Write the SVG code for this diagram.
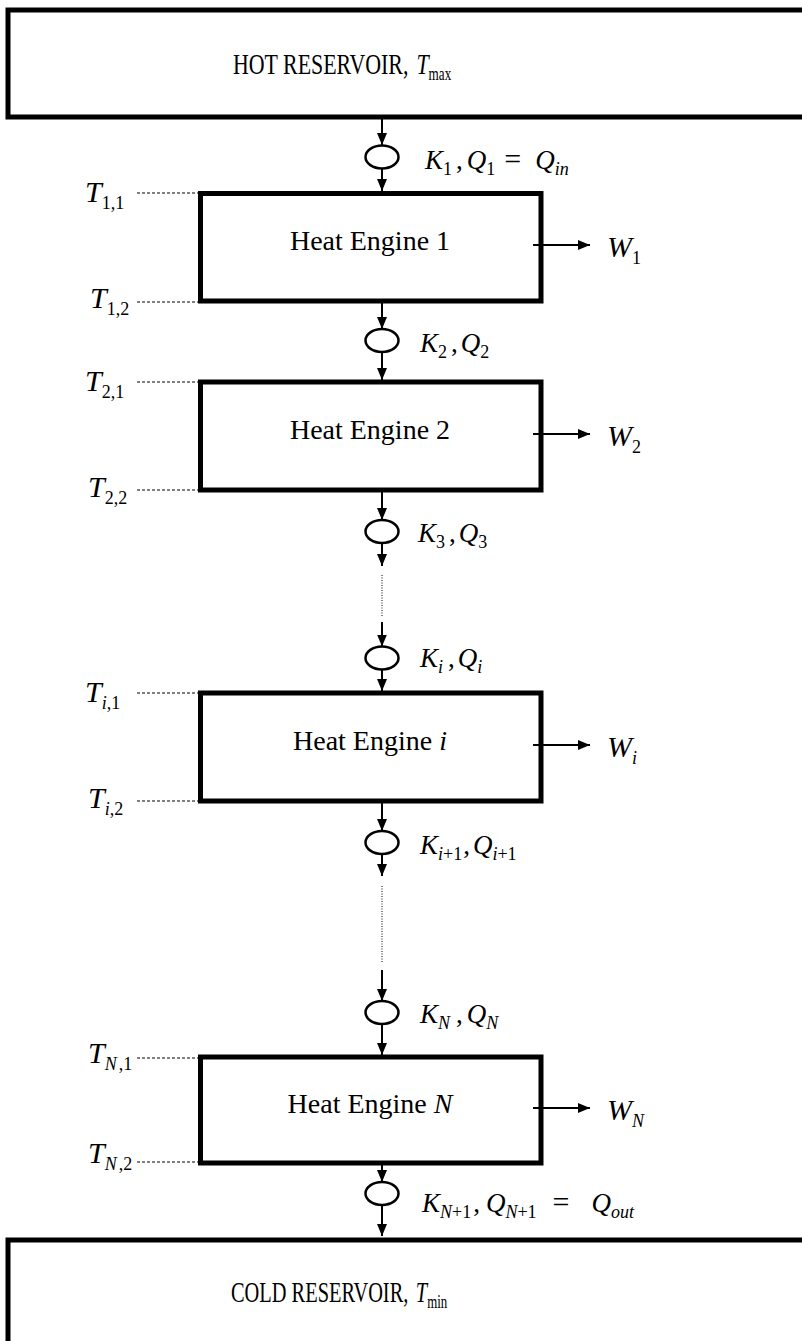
<svg xmlns="http://www.w3.org/2000/svg" width="802" height="1341" viewBox="0 0 802 1341">
<style>
.t{font-family:"Liberation Serif","Times New Roman",serif;fill:#000}
.big{font-size:28px}
.res{font-size:30px}
.m{font-size:27px}
.tv{font-size:30px}
.it{font-style:italic}
.sb{font-size:18px}
.eq{font-size:30px}
.box{fill:#fff;stroke:#000;stroke-width:5}
.ell{fill:#fff;stroke:#000;stroke-width:2.5}
.arr{stroke:#000;stroke-width:2;fill:none;marker-end:url(#ah)}
.dot{stroke:#000;stroke-width:1;stroke-dasharray:1 1.5;fill:none}
.dash{stroke:#000;stroke-width:1;stroke-dasharray:3 2;fill:none}
</style>
<defs>
<marker id="ah" viewBox="0 0 12 10" refX="12" refY="5" markerWidth="12" markerHeight="10" markerUnits="userSpaceOnUse" orient="auto">
<path d="M0,0 L12,5 L0,10 z" fill="#000"/>
</marker>
</defs>
<rect width="802" height="1341" fill="#fff"/>

<g id="hot">
<rect class="box" x="8" y="10" width="830" height="107"/>
<text class="t res" transform="translate(233,74) scale(0.73,1)">HOT RESERVOIR,<tspan class="it" dx="11">T</tspan><tspan font-size="18" dy="6">max</tspan></text>
</g>

<g id="cold">
<rect class="box" x="8" y="1240" width="830" height="140"/>
<text class="t res" transform="translate(231,1302) scale(0.68,1)">COLD RESERVOIR,<tspan class="it" dx="11">T</tspan><tspan font-size="19" dy="6">min</tspan></text>
</g>

<g id="engine1">
<rect class="box" x="200.5" y="193.5" width="340.5" height="107.5"/>
<text class="t big" x="370" y="250" text-anchor="middle">Heat Engine 1</text>
</g>
<g id="engine2">
<rect class="box" x="200.5" y="382" width="340.5" height="108"/>
<text class="t big" x="370" y="439" text-anchor="middle">Heat Engine 2</text>
</g>
<g id="enginei">
<rect class="box" x="200.5" y="693" width="340.5" height="108"/>
<text class="t big" x="370" y="750" text-anchor="middle">Heat Engine <tspan class="it">i</tspan></text>
</g>
<g id="engineN">
<rect class="box" x="200.5" y="1057" width="340.5" height="106"/>
<text class="t big" x="370" y="1113" text-anchor="middle">Heat Engine <tspan class="it">N</tspan></text>
</g>

<g id="resistors">
<ellipse class="ell" cx="382" cy="157" rx="16.5" ry="11.5"/>
<ellipse class="ell" cx="382" cy="340.5" rx="16.5" ry="11.5"/>
<ellipse class="ell" cx="382" cy="531.5" rx="16.5" ry="11.5"/>
<ellipse class="ell" cx="382" cy="658" rx="16.5" ry="11.5"/>
<ellipse class="ell" cx="382" cy="842.5" rx="16.5" ry="11.5"/>
<ellipse class="ell" cx="382" cy="1012.5" rx="16.5" ry="11.5"/>
<ellipse class="ell" cx="382" cy="1193.5" rx="16.5" ry="11.5"/>
</g>

<g id="connectors">
<line class="arr" x1="382" y1="119" x2="382" y2="145"/>
<line class="arr" x1="382" y1="168.5" x2="382" y2="191"/>
<line class="arr" x1="382" y1="303" x2="382" y2="329"/>
<line class="arr" x1="382" y1="352" x2="382" y2="380"/>
<line class="arr" x1="382" y1="492" x2="382" y2="520"/>
<line class="arr" x1="382" y1="543" x2="382" y2="566"/>
<line class="dot" x1="382" y1="575" x2="382" y2="616"/>
<line class="arr" x1="382" y1="622" x2="382" y2="646.5"/>
<line class="arr" x1="382" y1="669.5" x2="382" y2="691"/>
<line class="arr" x1="382" y1="803" x2="382" y2="831"/>
<line class="arr" x1="382" y1="854" x2="382" y2="876"/>
<line class="dot" x1="382" y1="886" x2="382" y2="963"/>
<line class="arr" x1="382" y1="970" x2="382" y2="1001"/>
<line class="arr" x1="382" y1="1024" x2="382" y2="1055"/>
<line class="arr" x1="382" y1="1165" x2="382" y2="1182"/>
<line class="arr" x1="382" y1="1205" x2="382" y2="1236"/>
<line class="arr" x1="533" y1="245" x2="590" y2="245"/>
<line class="arr" x1="533" y1="434" x2="590" y2="434"/>
<line class="arr" x1="533" y1="745" x2="590" y2="745"/>
<line class="arr" x1="533" y1="1108" x2="590" y2="1108"/>
<line class="dash" x1="137" y1="193" x2="198" y2="193"/>
<line class="dash" x1="137" y1="302" x2="198" y2="302"/>
<line class="dash" x1="137" y1="382" x2="198" y2="382"/>
<line class="dash" x1="137" y1="490" x2="198" y2="490"/>
<line class="dash" x1="137" y1="693" x2="198" y2="693"/>
<line class="dash" x1="137" y1="801" x2="198" y2="801"/>
<line class="dash" x1="137" y1="1058" x2="198" y2="1058"/>
<line class="dash" x1="137" y1="1162" x2="198" y2="1162"/>
</g>

<g id="flow-labels">
<text class="t m" x="425" y="169"><tspan class="it">K</tspan><tspan class="sb" dy="6">1</tspan><tspan dy="-6" dx="4">,</tspan><tspan class="it" dx="4">Q</tspan><tspan class="sb" dy="6">1</tspan><tspan class="eq" dy="-6" dx="9">=</tspan><tspan class="it" dx="14">Q</tspan><tspan class="sb it" dy="6">in</tspan></text>
<text class="t m" x="420" y="352"><tspan class="it">K</tspan><tspan class="sb" dy="6">2</tspan><tspan dy="-6" dx="4">,</tspan><tspan class="it" dx="3">Q</tspan><tspan class="sb" dy="6">2</tspan></text>
<text class="t m" x="418" y="542"><tspan class="it">K</tspan><tspan class="sb" dy="6">3</tspan><tspan dy="-6" dx="4">,</tspan><tspan class="it" dx="3">Q</tspan><tspan class="sb" dy="6">3</tspan></text>
<text class="t m" x="420" y="667"><tspan class="it">K</tspan><tspan class="sb it" dy="6">i</tspan><tspan dy="-6" dx="5">,</tspan><tspan class="it" dx="3">Q</tspan><tspan class="sb it" dy="6">i</tspan></text>
<text class="t m" x="420" y="854"><tspan class="it">K</tspan><tspan class="sb it" dy="6">i</tspan><tspan class="sb">+1</tspan><tspan dy="-6" dx="1">,</tspan><tspan class="it" dx="3">Q</tspan><tspan class="sb it" dy="6">i</tspan><tspan class="sb">+1</tspan></text>
<text class="t m" x="420" y="1023"><tspan class="it">K</tspan><tspan class="sb it" dy="6">N</tspan><tspan dy="-6" dx="6">,</tspan><tspan class="it" dx="4">Q</tspan><tspan class="sb it" dy="6">N</tspan></text>
<text class="t m" x="422" y="1212"><tspan class="it">K</tspan><tspan class="sb it" dy="6">N</tspan><tspan class="sb">+1</tspan><tspan dy="-6" dx="2">,</tspan><tspan class="it" dx="6">Q</tspan><tspan class="sb it" dy="6">N</tspan><tspan class="sb">+1</tspan><tspan class="eq" dy="-6" dx="16">=</tspan><tspan class="it" dx="22">Q</tspan><tspan class="sb it" dy="6">out</tspan></text>
</g>

<g id="work-labels">
<text class="t tv" x="607" y="257"><tspan class="it">W</tspan><tspan class="sb" dy="7">1</tspan></text>
<text class="t tv" x="607" y="446"><tspan class="it">W</tspan><tspan class="sb" dy="7">2</tspan></text>
<text class="t tv" x="607" y="757"><tspan class="it">W</tspan><tspan class="sb it" dy="7">i</tspan></text>
<text class="t tv" x="607" y="1120"><tspan class="it">W</tspan><tspan class="sb it" dy="7">N</tspan></text>
</g>

<g id="temp-labels">
<text class="t tv" x="85" y="202"><tspan class="it">T</tspan><tspan class="sb" dy="7">1,1</tspan></text>
<text class="t tv" x="90" y="308"><tspan class="it">T</tspan><tspan class="sb" dy="7">1,2</tspan></text>
<text class="t tv" x="85" y="391"><tspan class="it">T</tspan><tspan class="sb" dy="7">2,1</tspan></text>
<text class="t tv" x="88" y="497"><tspan class="it">T</tspan><tspan class="sb" dy="7">2,2</tspan></text>
<text class="t tv" x="85" y="702"><tspan class="it">T</tspan><tspan class="sb it" dy="7">i</tspan><tspan class="sb">,1</tspan></text>
<text class="t tv" x="88" y="808"><tspan class="it">T</tspan><tspan class="sb it" dy="7">i</tspan><tspan class="sb">,2</tspan></text>
<text class="t tv" x="88" y="1063"><tspan class="it">T</tspan><tspan class="sb it" dy="7">N</tspan><tspan class="sb" dx="2">,1</tspan></text>
<text class="t tv" x="88" y="1163"><tspan class="it">T</tspan><tspan class="sb it" dy="7">N</tspan><tspan class="sb" dx="2">,2</tspan></text>
</g>
</svg>
